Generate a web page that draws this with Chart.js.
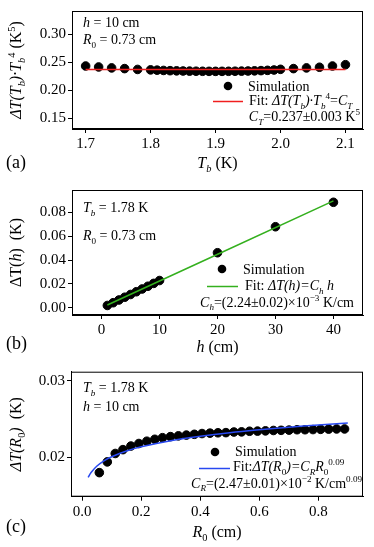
<!DOCTYPE html>
<html>
<head>
<meta charset="utf-8">
<script src="https://cdn.jsdelivr.net/npm/chart.js@4.4.1/dist/chart.umd.min.js"></script>
<style>
  html, body { margin: 0; padding: 0; background: #fff; }
  body { width: 374px; height: 547px; position: relative; overflow: hidden; }
  .panel { position: absolute; left: 0; width: 374px; }
</style>
</head>
<body>
<div class="panel" style="top:0px;height:178px"><canvas id="chartA" width="374" height="178"></canvas></div>
<div class="panel" style="top:178px;height:178px"><canvas id="chartB" width="374" height="178"></canvas></div>
<div class="panel" style="top:356px;height:191px"><canvas id="chartC" width="374" height="191"></canvas></div>
<script>
// (a) Delta T(Tb) * Tb^4 vs Tb
const tbValues = [1.70, 1.72, 1.74, 1.76, 1.78,
    1.80, 1.81, 1.82, 1.83, 1.84, 1.85, 1.86, 1.87, 1.88, 1.89, 1.90,
    1.91, 1.92, 1.93, 1.94, 1.95, 1.96, 1.97, 1.98, 1.99, 2.00,
    2.02, 2.04, 2.06, 2.08, 2.10];
const tbSim = [0.2431, 0.2414, 0.2397, 0.2385, 0.2370,
    0.2362, 0.2357, 0.2352, 0.2348, 0.2345, 0.2342, 0.2340, 0.2338, 0.2337, 0.2336, 0.2336,
    0.2336, 0.2337, 0.2338, 0.2340, 0.2342, 0.2345, 0.2349, 0.2354, 0.2360, 0.2372,
    0.2385, 0.2397, 0.2409, 0.2431, 0.2454];
const tbFitX = [1.70, 2.10];
const tbFitY = [0.237, 0.237];
const tbXTicks = [1.7, 1.8, 1.9, 2.0, 2.1];
const tbYTicks = [0.15, 0.20, 0.25, 0.30];

// (b) Delta T(h) vs h
const hValues = [1, 2, 3, 4, 5, 6, 7, 8, 9, 10, 20, 30, 40];
const hSim = [0.0019, 0.0042, 0.0065, 0.0088, 0.0111, 0.0134, 0.0157, 0.0180, 0.0204, 0.0228, 0.0461, 0.0679, 0.0884];
const hFitX = [1, 40];
const hFitY = [0.00224, 0.0896];
const hXTicks = [0, 10, 20, 30, 40];
const hYTicks = [0.00, 0.02, 0.04, 0.06, 0.08];

// (c) Delta T(R0) vs R0
const r0Values = [0.058, 0.085, 0.112, 0.138, 0.165, 0.192, 0.219, 0.246, 0.272, 0.299, 0.326,
    0.353, 0.380, 0.406, 0.433, 0.460, 0.487, 0.514, 0.540, 0.567, 0.594, 0.621,
    0.648, 0.674, 0.701, 0.728, 0.755, 0.782, 0.808, 0.835, 0.862, 0.889];
const r0Sim = [0.0180, 0.0194, 0.0205, 0.0210, 0.02147, 0.0218, 0.0221, 0.02235, 0.02256, 0.0227, 0.0228,
    0.0229, 0.0230, 0.0231, 0.02315, 0.0232, 0.02322, 0.0233, 0.02332, 0.0234, 0.02342, 0.02345,
    0.0235, 0.02352, 0.02355, 0.0236, 0.0236, 0.02362, 0.02365, 0.02368, 0.0237, 0.0237];
const r0FitX = [0.02, 0.03, 0.05, 0.075, 0.10, 0.15, 0.20, 0.30, 0.40, 0.50, 0.60, 0.70, 0.80, 0.90];
const r0FitY = [0.01737, 0.01801, 0.01886, 0.01957, 0.02008, 0.02082, 0.02137, 0.02216, 0.02274, 0.02321, 0.02359, 0.02392, 0.02421, 0.02447];
const r0XTicks = [0.0, 0.2, 0.4, 0.6, 0.8];
const r0YTicks = [0.02, 0.03];

const FONT = '"Liberation Serif", "Times New Roman", serif';

// draw text made of parts: [text, flags]  i = italic, b = subscript, p = superscript
function rich(ctx, x, y, parts, size, align) {
    const fontFor = (f, s) => (f.includes('i') ? 'italic ' : '') + s + 'px ' + FONT;
    let total = 0;
    const items = parts.map(([t, f = '']) => {
        const s = (f.includes('b') || f.includes('p')) ? size * 0.65 : size;
        ctx.font = fontFor(f, s);
        const w = ctx.measureText(t).width;
        total += w;
        return { t, f, s, w };
    });
    let cx = align === 'center' ? x - total / 2 : align === 'right' ? x - total : x;
    ctx.textAlign = 'left';
    ctx.textBaseline = 'alphabetic';
    ctx.fillStyle = '#000';
    items.forEach(it => {
        ctx.font = fontFor(it.f, it.s);
        const dy = it.f.includes('b') ? size * 0.25 : it.f.includes('p') ? -size * 0.4 : 0;
        ctx.fillText(it.t, cx, y + dy);
        cx += it.w;
    });
}

const pts = (xs, ys) => xs.map((v, i) => ({ x: v, y: ys[i] }));

function makeChart(id, cfg) {
    const canvas = document.getElementById(id);
    const H = canvas.height;
    const decor = {
        id: 'decor',
        afterDraw(chart) {
            const ctx = chart.ctx;
            const a = chart.chartArea;
            ctx.save();
            ctx.strokeStyle = '#000';
            ctx.lineWidth = 1;
            ctx.strokeRect(a.left + 0.5, a.top + 0.5, a.right - a.left - 1, a.bottom - a.top - 1);
            // y title
            ctx.save();
            ctx.translate(21, (a.top + a.bottom) / 2);
            ctx.rotate(-Math.PI / 2);
            rich(ctx, 0, 0, cfg.yTitle, 16, 'center');
            ctx.restore();
            // x title
            rich(ctx, (a.left + a.right) / 2, cfg.xTitleY, cfg.xTitle, 16, 'center');
            // panel label
            rich(ctx, 6, cfg.labelY, [[cfg.label]], 18, 'left');
            // annotations
            cfg.notes.forEach(n => rich(ctx, n.x, n.y, n.parts, 14, 'left'));
            // legend
            const lg = cfg.legend;
            ctx.fillStyle = '#000';
            ctx.beginPath();
            ctx.arc(lg.dotX, lg.dotY, 4.3, 0, Math.PI * 2);
            ctx.fill();
            rich(ctx, lg.simX, lg.simY, [['Simulation']], 14, 'left');
            ctx.strokeStyle = cfg.color;
            ctx.lineWidth = 1.5;
            ctx.beginPath();
            ctx.moveTo(lg.lineX0, lg.lineY);
            ctx.lineTo(lg.lineX1, lg.lineY);
            ctx.stroke();
            rich(ctx, lg.fitX, lg.fitY, lg.fit, 14, 'left');
            rich(ctx, lg.coefX, lg.coefY, lg.coef, 14, 'right');
            ctx.restore();
        }
    };
    const axisCommon = (ticks, min, max, digits) => ({
        type: 'linear',
        min, max,
        afterBuildTicks: (scale) => { scale.ticks = ticks.map(v => ({ value: v })); },
        ticks: {
            color: '#000',
            font: { family: FONT, size: 15 },
            padding: 2,
            maxRotation: 0,
            callback: (v) => Number(v).toFixed(digits)
        },
        grid: { display: true, drawOnChartArea: false, drawTicks: true, tickLength: 4, color: '#000' },
        border: { display: true, color: '#000', width: 1 }
    });
    const xScale = axisCommon(cfg.xTicks, cfg.xMin, cfg.xMax, cfg.xDigits);
    xScale.afterFit = (scale) => { scale.height = H - cfg.plotBottom; };
    const yScale = axisCommon(cfg.yTicks, cfg.yMin, cfg.yMax, cfg.yDigits);
    yScale.afterFit = (scale) => { scale.width = cfg.plotLeft; };
    return new Chart(canvas, {
        type: 'scatter',
        data: {
            datasets: [
                {
                    type: 'line',
                    data: pts(cfg.fitX, cfg.fitY),
                    borderColor: cfg.color,
                    borderWidth: 1.5,
                    pointRadius: 0,
                    tension: 0.4,
                    fill: false,
                    order: 0
                },
                {
                    data: pts(cfg.simX, cfg.simY),
                    backgroundColor: '#000',
                    borderColor: '#000',
                    pointRadius: 4.3,
                    pointHoverRadius: 4.3,
                    order: 1
                }
            ]
        },
        options: {
            responsive: false,
            animation: false,
            devicePixelRatio: 1,
            layout: { padding: { left: 0, right: 11, top: cfg.plotTop, bottom: 0 } },
            plugins: { legend: { display: false }, tooltip: { enabled: false } },
            scales: { x: xScale, y: yScale }
        },
        plugins: [decor]
    });
}

makeChart('chartA', {
    simX: tbValues, simY: tbSim, fitX: tbFitX, fitY: tbFitY, color: '#f01e1e',
    xTicks: tbXTicks, yTicks: tbYTicks, xMin: 1.679, xMax: 2.127, yMin: 0.131, yMax: 0.341,
    xDigits: 1, yDigits: 2, plotTop: 7, plotBottom: 129, plotLeft: 72,
    yTitle: [['ΔT(T', 'i'], ['b', 'ib'], [')·T', 'i'], ['b', 'ib'], ['4', 'p'], [' (K'], ['5', 'p'], [')']],
    xTitle: [['T', 'i'], ['b', 'ib'], [' (K)']], xTitleY: 168,
    label: '(a)', labelY: 168,
    notes: [
        { x: 83, y: 27, parts: [['h', 'i'], [' = 10 cm']] },
        { x: 83, y: 44, parts: [['R', 'i'], ['0', 'b'], [' = 0.73 cm']] }
    ],
    legend: {
        dotX: 228, dotY: 86, simX: 248, simY: 91,
        lineX0: 213, lineX1: 243, lineY: 101.5,
        fitX: 249, fitY: 105,
        fit: [['Fit: '], ['ΔT(T', 'i'], ['b', 'ib'], [')·T', 'i'], ['b', 'ib'], ['4', 'p'], ['='], ['C', 'i'], ['T', 'ib']],
        coefX: 360, coefY: 121,
        coef: [['C', 'i'], ['T', 'ib'], ['=0.237±0.003 K'], ['5', 'p']]
    }
});

makeChart('chartB', {
    simX: hValues, simY: hSim, fitX: hFitX, fitY: hFitY, color: '#34b01e',
    xTicks: hXTicks, yTicks: hYTicks, xMin: -5.1, xMax: 45.1, yMin: -0.0061, yMax: 0.0987,
    xDigits: 0, yDigits: 2, plotTop: 12, plotBottom: 137, plotLeft: 72,
    yTitle: [['ΔT('], ['h', 'i'], [')  (K)']],
    xTitle: [['h', 'i'], [' (cm)']], xTitleY: 174,
    label: '(b)', labelY: 171,
    notes: [
        { x: 83, y: 34, parts: [['T', 'i'], ['b', 'ib'], [' = 1.78 K']] },
        { x: 83, y: 62, parts: [['R', 'i'], ['0', 'b'], [' = 0.73 cm']] }
    ],
    legend: {
        dotX: 222, dotY: 91, simX: 243, simY: 96,
        lineX0: 207, lineX1: 238, lineY: 108.5,
        fitX: 245, fitY: 112,
        fit: [['Fit: '], ['ΔT(h)=C', 'i'], ['h', 'ib'], [' h', 'i']],
        coefX: 354, coefY: 128.5,
        coef: [['C', 'i'], ['h', 'ib'], ['=(2.24±0.02)×10'], ['−3', 'p'], [' K/cm']]
    }
});

makeChart('chartC', {
    simX: r0Values, simY: r0Sim, fitX: r0FitX, fitY: r0FitY, color: '#2848f0',
    xTicks: r0XTicks, yTicks: r0YTicks, xMin: -0.038, xMax: 0.9515, yMin: 0.01486, yMax: 0.03117,
    xDigits: 1, yDigits: 2, plotTop: 15.7, plotBottom: 140.7, plotLeft: 71,
    yTitle: [['ΔT(R', 'i'], ['0', 'b'], [')', 'i'], ['  (K)']],
    xTitle: [['R', 'i'], ['0', 'b'], [' (cm)']], xTitleY: 181,
    label: '(c)', labelY: 176,
    notes: [
        { x: 83, y: 36, parts: [['T', 'i'], ['b', 'ib'], [' = 1.78 K']] },
        { x: 83, y: 55, parts: [['h', 'i'], [' = 10 cm']] }
    ],
    legend: {
        dotX: 215, dotY: 96, simX: 235, simY: 100,
        lineX0: 199, lineX1: 230, lineY: 112.5,
        fitX: 233, fitY: 115,
        fit: [['Fit:'], ['ΔT(R', 'i'], ['0', 'b'], [')=C', 'i'], ['R', 'ib'], ['R', 'i'], ['0', 'b'], ['0.09', 'p']],
        coefX: 362, coefY: 131.5,
        coef: [['C', 'i'], ['R', 'ib'], ['=(2.47±0.01)×10'], ['−2', 'p'], [' K/cm'], ['0.09', 'p']]
    }
});
</script>
</body>
</html>
